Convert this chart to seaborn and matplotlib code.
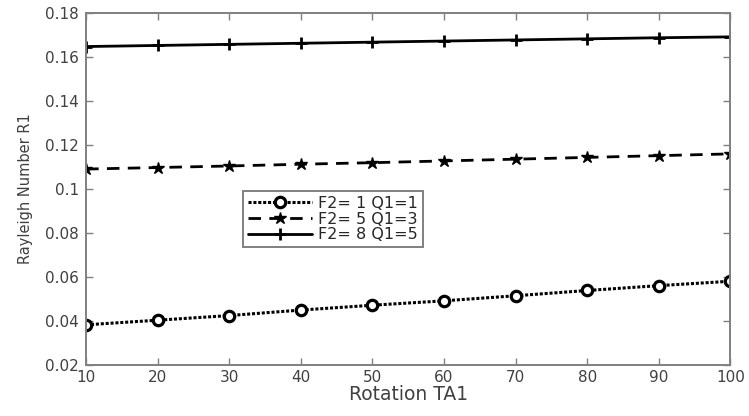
import numpy as np
import pandas as pd
import matplotlib
matplotlib.use("Agg")
import matplotlib.pyplot as plt
import seaborn as sns

rotation = [10, 20, 30, 40, 50, 60, 70, 80, 90, 100]
r1_f1 = [0.0382, 0.0403, 0.0424, 0.0449, 0.0471, 0.0491, 0.0514, 0.0538, 0.0560, 0.0580]
r1_f5 = [0.1090, 0.1097, 0.1104, 0.1112, 0.1119, 0.1127, 0.1135, 0.1143, 0.1151, 0.1159]
r1_f8 = [0.1647, 0.1652, 0.1657, 0.1662, 0.1667, 0.1672, 0.1677, 0.1682, 0.1687, 0.1691]
labels = ["F2= 1 Q1=1", "F2= 5 Q1=3", "F2= 8 Q1=5"]
yticks = [0.02, 0.04, 0.06, 0.08, 0.1, 0.12, 0.14, 0.16, 0.18]
ytick_labels = ["0.02", "0.04", "0.06", "0.08", "0.1", "0.12", "0.14", "0.16", "0.18"]

sns.set_style("white")
plt.rcParams["font.family"] = ["DejaVu Sans"]

fig = plt.figure(figsize=(7.49, 4.16), dpi=100)
ax = fig.add_axes([0.115, 0.123, 0.86, 0.846])

sns.lineplot(x=rotation, y=r1_f1, ax=ax, color="black", linestyle=(0, (1, 0.6)), lw=2.2,
             marker="o", markersize=7.5, mfc="white", mec="black", mew=2.3,
             label=labels[0])
sns.lineplot(x=rotation, y=r1_f5, ax=ax, color="black", linestyle=(0, (4.5, 3)), lw=2,
             marker="*", markersize=9, mfc="black", mec="black", mew=1,
             label=labels[1])
sns.lineplot(x=rotation, y=r1_f8, ax=ax, color="black", linestyle="-", lw=2,
             marker="+", markersize=9, mfc="black", mec="black", mew=2,
             label=labels[2])

ax.set_xlim(10, 100)
ax.set_ylim(0.02, 0.18)
ax.set_xticks(rotation)
ax.set_yticks(yticks)
ax.set_yticklabels(ytick_labels)

gray = "#808080"
for s in ax.spines.values():
    s.set_color(gray)
    s.set_linewidth(1.4)
    s.set_visible(True)
ax.tick_params(direction="in", length=5, width=1, color=gray, labelcolor="#404040",
               labelsize=11, top=True, right=True, bottom=True, left=True)
ax.tick_params(axis="y", pad=5)
ax.tick_params(axis="x", pad=4)

ax.set_xlabel("Rotation TA1", fontsize=13.5, color="#404040", labelpad=0)
ax.set_ylabel("Rayleigh Number R1", fontsize=10.5, color="#404040", labelpad=9)

leg = ax.legend(loc="upper left", bbox_to_anchor=(0.244, 0.494), fontsize=11.5,
                fancybox=False, edgecolor=gray, framealpha=1, handlelength=4.0,
                numpoints=1, borderpad=0.3, labelspacing=0.05, handletextpad=0.4,
                borderaxespad=0)
leg.get_frame().set_linewidth(1.4)

fig.savefig("out.png", dpi=100)
